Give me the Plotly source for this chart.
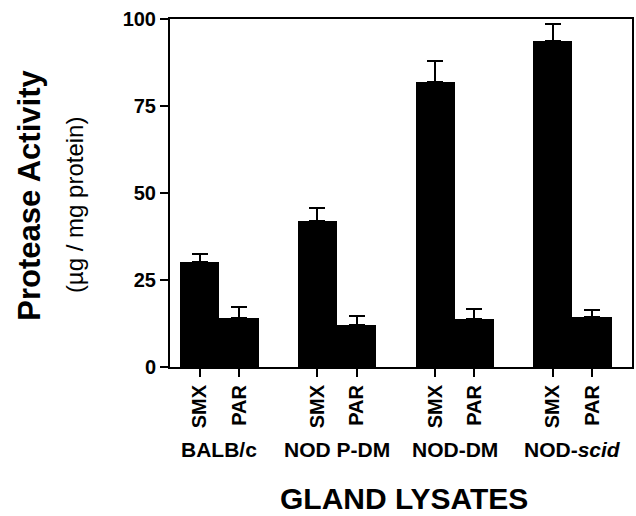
import plotly.graph_objects as go

groups = ["BALB/c", "NOD P-DM", "NOD-DM", "NOD-<i>scid</i>"]
tissues = ["SMX", "PAR"]
smx_vals = [30.3, 42.0, 82.0, 93.8]
smx_err = [2.3, 3.6, 6.0, 4.8]
par_vals = [14.2, 12.1, 13.7, 14.4]
par_err = [2.9, 2.5, 2.9, 2.0]
y_ticks = [0, 25, 50, 75, 100]

group_step = 3
x_smx = [i * group_step for i in range(len(groups))]
x_par = [i * group_step + 1 for i in range(len(groups))]

xs, ys, es, labels = [], [], [], []
for i in range(len(groups)):
    xs += [x_smx[i], x_par[i]]
    ys += [smx_vals[i], par_vals[i]]
    es += [smx_err[i], par_err[i]]
    labels += tissues

FONT = "Liberation Sans, Arial, Helvetica, sans-serif"

fig = go.Figure()
fig.add_trace(go.Bar(
    x=xs, y=ys, width=1.0,
    marker=dict(color="black", line=dict(width=0)),
    error_y=dict(type="data", array=es, arrayminus=[0] * len(es), symmetric=False,
                 color="black", thickness=2, width=8),
    showlegend=False,
))

fig.update_layout(
    width=636, height=516,
    margin=dict(l=170, r=2, t=19, b=149),
    plot_bgcolor="white", paper_bgcolor="white",
    font=dict(family=FONT, color="black"),
    bargap=0,
)
fig.update_xaxes(
    range=[-0.76, 11.02],
    tickmode="array", tickvals=xs, ticktext=labels,
    tickangle=-90,
    ticks="outside", ticklen=8, tickwidth=2, tickcolor="black",
    tickfont=dict(size=20, family=FONT, weight="bold", color="black"),
    showline=True, linecolor="black", linewidth=2, mirror=True,
    showgrid=False, zeroline=False,
)
fig.update_yaxes(
    range=[0, 100],
    tickmode="array", tickvals=y_ticks, ticktext=[str(v) for v in y_ticks],
    ticks="outside", ticklen=8, tickwidth=2, tickcolor="black",
    tickfont=dict(size=20, family=FONT, weight="bold", color="black"),
    showline=True, linecolor="black", linewidth=2, mirror=True,
    showgrid=False, zeroline=False,
)

annotations = []
for i, g in enumerate(groups):
    annotations.append(dict(
        x=(x_smx[i] + x_par[i]) / 2, y=-0.2385, xref="x", yref="paper",
        text=g, showarrow=False, xanchor="center", yanchor="middle",
        font=dict(size=21, family=FONT, weight="bold", color="black"),
    ))
annotations.append(dict(
    x=0.506, y=-0.378, xref="paper", yref="paper",
    text="GLAND LYSATES", showarrow=False, xanchor="center", yanchor="middle",
    font=dict(size=30, family=FONT, weight="bold", color="black"),
))
annotations.append(dict(
    x=-0.306, y=0.494, xref="paper", yref="paper", textangle=-90,
    text="Protease Activity", showarrow=False, xanchor="center", yanchor="middle",
    font=dict(size=31, family=FONT, weight="bold", color="black"),
))
annotations.append(dict(
    x=-0.205, y=0.466, xref="paper", yref="paper", textangle=-90,
    text="(µg / mg protein)", showarrow=False, xanchor="center", yanchor="middle",
    font=dict(size=24, family=FONT, color="black"),
))
fig.update_layout(annotations=annotations)

fig.write_html(
    "out.html",
    config={"displayModeBar": False},
    post_script="document.body.style.margin='0';document.body.style.overflow='hidden';",
)
